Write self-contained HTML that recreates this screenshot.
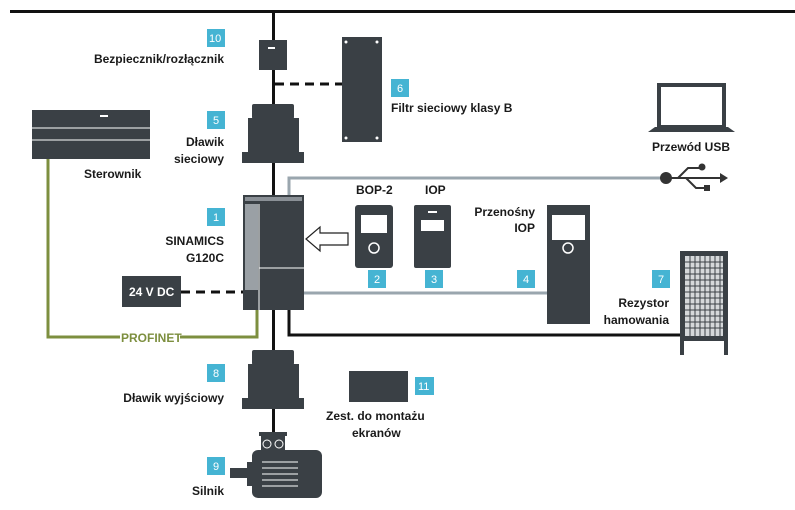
<!DOCTYPE html>
<html><head><meta charset="utf-8"><style>
html,body{margin:0;padding:0;background:#fff}
svg{display:block}
text{font-family:"Liberation Sans",sans-serif;font-weight:bold;font-size:12px;fill:#1a1a1a}
.b{fill:#fff;font-weight:normal;font-size:11px}
</style></head><body>
<svg width="795" height="510" viewBox="0 0 795 510" xmlns="http://www.w3.org/2000/svg">
<g fill="#3a4045">
<rect x="10" y="10" width="785" height="3" fill="#111"/>
<rect x="272" y="12" width="3" height="186" fill="#111"/>
<rect x="259" y="40" width="28" height="30"/>
<rect x="268" y="47" width="7" height="2" fill="#fff"/>
<line x1="275" y1="84" x2="342" y2="84" stroke="#111" stroke-width="3" stroke-dasharray="9,6"/>
<rect x="342" y="37" width="40" height="105"/>
<circle cx="346" cy="42" r="1.5" fill="#fff"/><circle cx="377" cy="42" r="1.5" fill="#fff"/>
<circle cx="346" cy="138" r="1.5" fill="#fff"/><circle cx="377" cy="138" r="1.5" fill="#fff"/>
<rect x="252" y="104" width="42" height="15" rx="2"/>
<rect x="248" y="118" width="51" height="34"/>
<rect x="242" y="152" width="62" height="11"/>
<rect x="32" y="110" width="118" height="49"/>
<line x1="32" y1="128" x2="150" y2="128" stroke="#fff" stroke-width="1"/>
<line x1="32" y1="140" x2="150" y2="140" stroke="#fff" stroke-width="1"/>
<rect x="100" y="115" width="8" height="2" fill="#fff"/>
<rect x="243" y="195" width="61" height="115"/>
<rect x="245" y="197" width="57" height="4" fill="#8a9096"/>
<rect x="245" y="204" width="13" height="86" fill="#9aa0a5"/>
<line x1="259" y1="268" x2="304" y2="268" stroke="#fff"/>
<line x1="259" y1="204" x2="259" y2="310" stroke="#fff"/>
<polyline points="289,195 289,178 665,178" fill="none" stroke="#9aa6ae" stroke-width="3"/>
<line x1="304" y1="293" x2="548" y2="293" stroke="#9aa6ae" stroke-width="3"/>
<circle cx="666" cy="178" r="6" fill="#333"/>
<line x1="666" y1="178" x2="722" y2="178" stroke="#333" stroke-width="2"/>
<polygon points="720,173 728,178 720,183" fill="#333"/>
<polyline points="678,178 688,168 700,168" fill="none" stroke="#333" stroke-width="2"/>
<circle cx="702" cy="167" r="3.5" fill="#333"/>
<polyline points="686,178 696,188 706,188" fill="none" stroke="#333" stroke-width="2"/>
<rect x="704" y="185" width="6" height="6" fill="#333"/>
<rect x="659" y="85" width="65" height="42" fill="none" stroke="#3a4045" stroke-width="4"/>
<polygon points="655,127 728,127 735,132 648,132"/>
<polygon points="306,239 320,227 320,233 348,233 348,245 320,245 320,251" fill="#fff" stroke="#222" stroke-width="1.2"/>
<rect x="355" y="205" width="38" height="63" rx="3"/>
<rect x="361" y="215" width="26" height="18" fill="#fff"/>
<circle cx="374" cy="248" r="5" fill="none" stroke="#fff" stroke-width="1.5"/>
<rect x="414" y="205" width="37" height="63" rx="2"/>
<rect x="421" y="220" width="23" height="11" fill="#fff"/>
<rect x="428" y="211" width="9" height="2" fill="#fff"/>
<rect x="547" y="205" width="43" height="119"/>
<rect x="552" y="215" width="33" height="25" fill="#fff"/>
<circle cx="568" cy="248" r="5" fill="none" stroke="#fff" stroke-width="1.5"/>
<polyline points="289,310 289,335 681,335" fill="none" stroke="#111" stroke-width="3"/>
<rect x="680" y="251" width="48" height="90"/>
<rect x="685" y="256" width="38" height="80" fill="#d5d8da"/>
<g stroke="#3a4045" stroke-width="1">
<path d="M685 262H723M685 268H723M685 274H723M685 280H723M685 286H723M685 292H723M685 298H723M685 304H723M685 310H723M685 316H723M685 322H723M685 328H723"/>
<path d="M690 256V336M695 256V336M700 256V336M705 256V336M710 256V336M715 256V336M720 256V336"/>
</g>
<rect x="680" y="341" width="4" height="14"/><rect x="724" y="341" width="4" height="14"/>
<rect x="122" y="276" width="59" height="31"/>
<line x1="181" y1="292" x2="243" y2="292" stroke="#111" stroke-width="3" stroke-dasharray="9,6"/>
<polyline points="48,159 48,337 257,337 257,310" fill="none" stroke="#7d8f3f" stroke-width="3"/>
<rect x="120" y="330" width="60" height="14" fill="#fff"/>
<text x="121" y="342" style="fill:#7d8f3f">PROFINET</text>
<rect x="272" y="310" width="3" height="140" fill="#111"/>
<rect x="252" y="350" width="42" height="15" rx="2"/>
<rect x="248" y="364" width="51" height="34"/>
<rect x="242" y="398" width="62" height="11"/>
<rect x="259" y="432" width="28" height="4"/>
<rect x="261" y="436" width="24" height="15"/>
<circle cx="267" cy="444" r="4" fill="none" stroke="#fff"/>
<circle cx="279" cy="444" r="4" fill="none" stroke="#fff"/>
<rect x="252" y="450" width="70" height="48" rx="6"/>
<rect x="230" y="468" width="17" height="10"/>
<rect x="247" y="462" width="6" height="24"/>
<path d="M262 462H298M262 468H298M262 474H298M262 480H298M262 486H298" stroke="#fff" stroke-width="1"/>
<rect x="349" y="371" width="59" height="31"/>
</g>
<g fill="#45b4d3">
<rect x="207" y="29" width="18" height="18"/>
<rect x="391" y="79" width="18" height="18"/>
<rect x="207" y="111" width="18" height="18"/>
<rect x="207" y="208" width="18" height="18"/>
<rect x="368" y="270" width="18" height="18"/>
<rect x="425" y="270" width="18" height="18"/>
<rect x="517" y="270" width="18" height="18"/>
<rect x="652" y="270" width="18" height="18"/>
<rect x="207" y="364" width="18" height="18"/>
<rect x="415" y="377" width="19" height="18"/>
<rect x="207" y="457" width="18" height="18"/>
</g>
<text class="b" x="209" y="42">10</text>
<text class="b" x="397" y="92">6</text>
<text class="b" x="213" y="124">5</text>
<text class="b" x="213" y="221">1</text>
<text class="b" x="374" y="283">2</text>
<text class="b" x="431" y="283">3</text>
<text class="b" x="523" y="283">4</text>
<text class="b" x="658" y="283">7</text>
<text class="b" x="213" y="377">8</text>
<text class="b" x="418" y="390">11</text>
<text class="b" x="213" y="470">9</text>
<g text-anchor="end">
<text x="224" y="63">Bezpiecznik/rozłącznik</text>
<text x="224" y="146">Dławik</text>
<text x="224" y="163">sieciowy</text>
<text x="224" y="245">SINAMICS</text>
<text x="224" y="262">G120C</text>
<text x="224" y="402">Dławik wyjściowy</text>
<text x="224" y="495">Silnik</text>
<text x="669" y="307">Rezystor</text>
<text x="669" y="324">hamowania</text>
<text x="535" y="216">Przenośny</text>
<text x="535" y="232">IOP</text>
</g>
<text x="84" y="178">Sterownik</text>
<text x="391" y="112">Filtr sieciowy klasy B</text>
<text x="652" y="151">Przewód USB</text>
<text x="356" y="194">BOP-2</text>
<text x="425" y="194">IOP</text>
<text x="129" y="296" style="fill:#fff">24 V DC</text>
<text x="326" y="420">Zest. do montażu</text>
<text x="352" y="437">ekranów</text>
</svg>
</body></html>
